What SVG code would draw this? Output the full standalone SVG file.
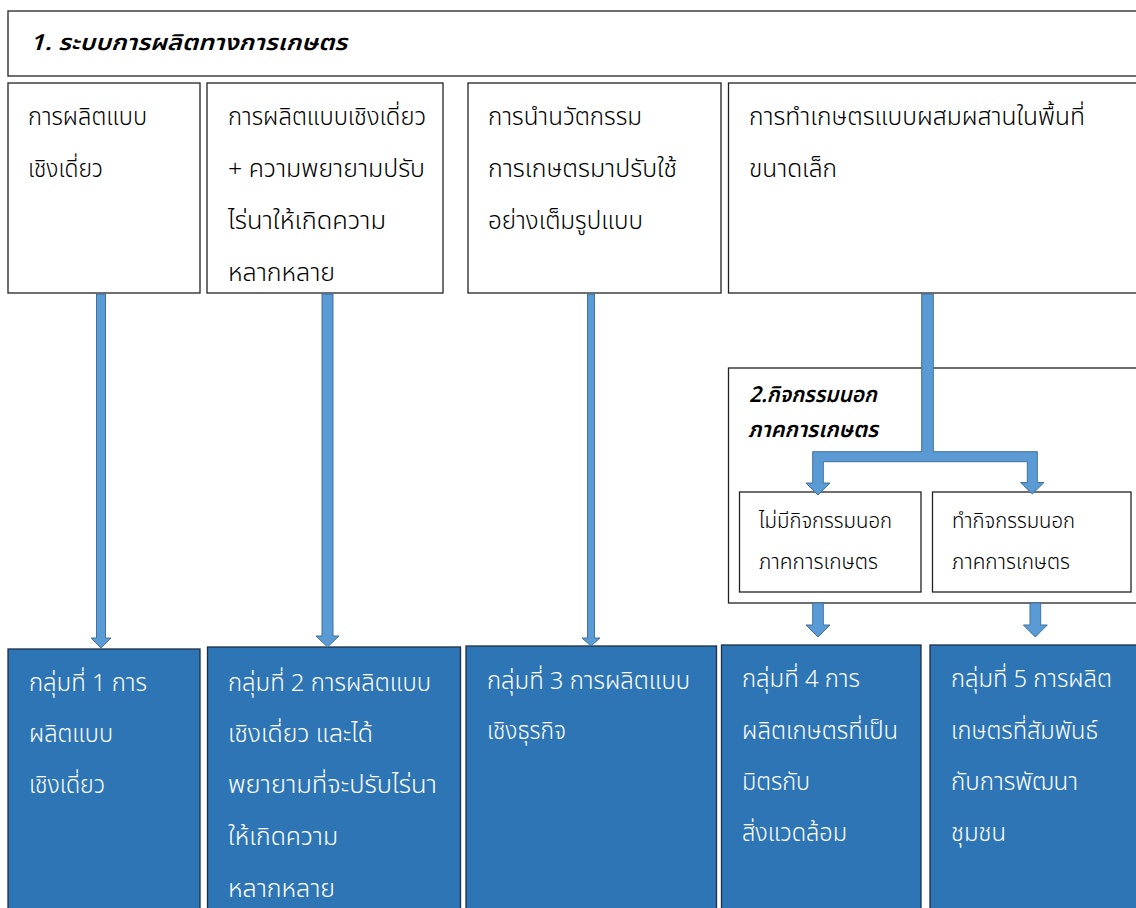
<svg xmlns="http://www.w3.org/2000/svg" width="1136" height="908" viewBox="0 0 1136 908">
<style>
.box{fill:#fff;stroke:#222;stroke-width:1.3}
.grp{fill:#2E75B6;stroke:#1c2f44;stroke-width:1.3}
.t{font-family:"Noto Sans Thai","Noto Sans","DejaVu Sans",sans-serif;font-size:24px;font-weight:300;fill:#000}
.w{fill:#fff}
.s{font-size:21px}
.h{font-family:"Noto Sans Thai","Noto Sans","DejaVu Sans",sans-serif;font-size:22px;font-weight:600;font-style:italic;fill:#000}
.arr{fill:#5B9BD5;stroke:#41719C;stroke-width:1}
</style>
<rect width="1136" height="908" fill="#fff"/>
<g id="header">
<rect class="box" x="8" y="11" width="1140" height="65"/>
<text class="h" x="30" y="50" textLength="317" lengthAdjust="spacingAndGlyphs">1. ระบบการผลิตทางการเกษตร</text>
</g>
<g id="box1">
<rect class="box" x="8" y="83" width="192" height="210"/>
<text class="t" x="28" y="125" textLength="119" lengthAdjust="spacingAndGlyphs">การผลิตแบบ</text>
<text class="t" x="28" y="177" textLength="75" lengthAdjust="spacingAndGlyphs">เชิงเดี่ยว</text>
</g>
<g id="box2">
<rect class="box" x="207" y="83" width="236" height="210"/>
<text class="t" x="228" y="125" textLength="198" lengthAdjust="spacingAndGlyphs">การผลิตแบบเชิงเดี่ยว</text>
<text class="t" x="228" y="177" textLength="197" lengthAdjust="spacingAndGlyphs">+ ความพยายามปรับ</text>
<text class="t" x="228" y="229" textLength="158" lengthAdjust="spacingAndGlyphs">ไร่นาให้เกิดความ</text>
<text class="t" x="228" y="281" textLength="107" lengthAdjust="spacingAndGlyphs">หลากหลาย</text>
</g>
<g id="box3">
<rect class="box" x="468" y="83" width="253" height="210"/>
<text class="t" x="488" y="125" textLength="154" lengthAdjust="spacingAndGlyphs">การนำนวัตกรรม</text>
<text class="t" x="488" y="177" textLength="189" lengthAdjust="spacingAndGlyphs">การเกษตรมาปรับใช้</text>
<text class="t" x="488" y="229" textLength="155" lengthAdjust="spacingAndGlyphs">อย่างเต็มรูปแบบ</text>
</g>
<g id="box4">
<rect class="box" x="728.5" y="83" width="412" height="210"/>
<text class="t" x="749" y="125" textLength="336" lengthAdjust="spacingAndGlyphs">การทำเกษตรแบบผสมผสานในพื้นที่</text>
<text class="t" x="749" y="177" textLength="88" lengthAdjust="spacingAndGlyphs">ขนาดเล็ก</text>
</g>
<g id="nonfarm">
<rect class="box" x="728.5" y="368" width="412" height="235"/>
<text class="h" x="749" y="402" textLength="128" lengthAdjust="spacingAndGlyphs">2.กิจกรรมนอก</text>
<text class="h" x="748" y="437" textLength="130" lengthAdjust="spacingAndGlyphs">ภาคการเกษตร</text>
</g>
<g id="nonfarm-no">
<rect class="box" x="739.5" y="492" width="181.5" height="100"/>
<text class="t s" x="759" y="528" textLength="133" lengthAdjust="spacingAndGlyphs">ไม่มีกิจกรรมนอก</text>
<text class="t s" x="759" y="569" textLength="119" lengthAdjust="spacingAndGlyphs">ภาคการเกษตร</text>
</g>
<g id="nonfarm-yes">
<rect class="box" x="932.5" y="492" width="198.5" height="100"/>
<text class="t s" x="952" y="528" textLength="123" lengthAdjust="spacingAndGlyphs">ทำกิจกรรมนอก</text>
<text class="t s" x="952" y="569" textLength="118" lengthAdjust="spacingAndGlyphs">ภาคการเกษตร</text>
</g>
<g id="group1">
<rect class="grp" x="8" y="649" width="192" height="270"/>
<text class="t w" x="29" y="691" textLength="118" lengthAdjust="spacingAndGlyphs">กลุ่มที่ 1 การ</text>
<text class="t w" x="29" y="742" textLength="84" lengthAdjust="spacingAndGlyphs">ผลิตแบบ</text>
<text class="t w" x="29" y="793" textLength="76" lengthAdjust="spacingAndGlyphs">เชิงเดี่ยว</text>
</g>
<g id="group2">
<rect class="grp" x="207.5" y="647" width="253" height="270"/>
<text class="t w" x="228" y="691" textLength="203" lengthAdjust="spacingAndGlyphs">กลุ่มที่ 2 การผลิตแบบ</text>
<text class="t w" x="228" y="742" textLength="145" lengthAdjust="spacingAndGlyphs">เชิงเดี่ยว และได้</text>
<text class="t w" x="228" y="793" textLength="209" lengthAdjust="spacingAndGlyphs">พยายามที่จะปรับไร่นา</text>
<text class="t w" x="228" y="845" textLength="110" lengthAdjust="spacingAndGlyphs">ให้เกิดความ</text>
<text class="t w" x="228" y="897" textLength="107" lengthAdjust="spacingAndGlyphs">หลากหลาย</text>
</g>
<g id="group3">
<rect class="grp" x="466" y="646" width="250.5" height="270"/>
<text class="t w" x="487" y="689" textLength="203" lengthAdjust="spacingAndGlyphs">กลุ่มที่ 3 การผลิตแบบ</text>
<text class="t w" x="487" y="739" textLength="79" lengthAdjust="spacingAndGlyphs">เชิงธุรกิจ</text>
</g>
<g id="group4">
<rect class="grp" x="721.5" y="645" width="199.5" height="270"/>
<text class="t w" x="742" y="687" textLength="118" lengthAdjust="spacingAndGlyphs">กลุ่มที่ 4 การ</text>
<text class="t w" x="742" y="739" textLength="156" lengthAdjust="spacingAndGlyphs">ผลิตเกษตรที่เป็น</text>
<text class="t w" x="742" y="790" textLength="68" lengthAdjust="spacingAndGlyphs">มิตรกับ</text>
<text class="t w" x="742" y="841" textLength="105" lengthAdjust="spacingAndGlyphs">สิ่งแวดล้อม</text>
</g>
<g id="group5">
<rect class="grp" x="930" y="645" width="212" height="270"/>
<text class="t w" x="951" y="687" textLength="161" lengthAdjust="spacingAndGlyphs">กลุ่มที่ 5 การผลิต</text>
<text class="t w" x="951" y="739" textLength="147" lengthAdjust="spacingAndGlyphs">เกษตรที่สัมพันธ์</text>
<text class="t w" x="951" y="790" textLength="127" lengthAdjust="spacingAndGlyphs">กับการพัฒนา</text>
<text class="t w" x="951" y="841" textLength="55" lengthAdjust="spacingAndGlyphs">ชุมชน</text>
</g>
<g id="connectors">
<polygon class="arr" points="96.5,294 105.5,294 105.5,638 111,638 101,648 91,638 96.5,638"/>
<polygon class="arr" points="322,294 333,294 333,636 339,636 327.5,647 316,636 322,636"/>
<polygon class="arr" points="587.5,294 594.5,294 594.5,638 600,638 591,646 582,638 587.5,638"/>
<polygon class="arr" points="921.7,294 933.3,294 933.3,451.7 1037.3,451.7 1037.3,482.5 1044,482.5 1032.3,494 1020.7,482.5 1027.3,482.5 1027.3,461.7 823.3,461.7 823.3,483 830,483 818,495 806,483 812.7,483 812.7,451.7 921.7,451.7"/>
<polygon class="arr" points="812.7,603 823.3,603 823.3,625 830,625 818,637 806,625 812.7,625"/>
<polygon class="arr" points="1030,603 1040.7,603 1040.7,625 1047.3,625 1035.3,637 1023.3,625 1030,625"/>
</g>
</svg>
